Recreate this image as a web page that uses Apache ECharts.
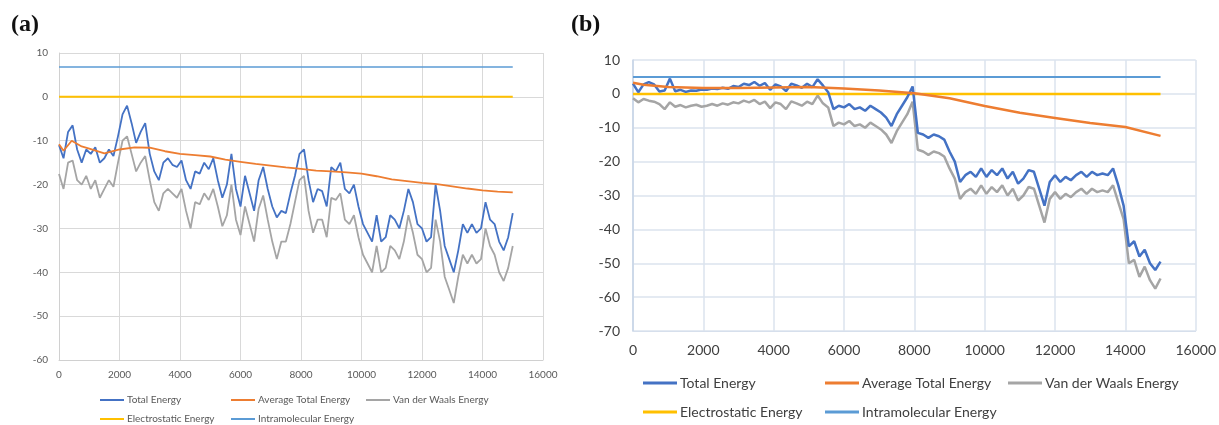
<!DOCTYPE html>
<html>
<head>
<meta charset="utf-8">
<script src="https://cdn.jsdelivr.net/npm/echarts@6/dist/echarts.min.js"></script>
<style>
  html, body { margin: 0; padding: 0; background: #fff; }
  #chart { width: 1219px; height: 425px; }
</style>
</head>
<body>
<div id="chart"></div>
<script>
// sampling step of the read-off energy traces (MC steps)
const stepA = 150
const stepB = 150

// panel (a)
const totalA = [
  -11, -14, -8, -6.5, -12, -15, -12, -13, -11.5, -15, -14, -12, -13.5, -9, -4, -2, -6, -10.5, -8, -6,
  -13, -17, -19, -15, -14, -15.5, -16, -14.5, -19, -21, -17, -17.5, -15, -16.5, -14, -19, -23, -20, -13, -21,
  -25, -18, -22, -26, -19, -16, -21, -25, -27.5, -26, -26.5, -22, -18, -13, -12, -19, -24, -21, -21.5, -25,
  -16, -17, -15, -21, -22, -20, -25, -29, -31, -33, -27, -33, -32, -27, -28, -30, -26, -21, -24, -29,
  -30, -33, -32, -20, -26, -34, -37, -40, -35, -29, -31, -29, -31, -30, -24, -28, -29, -33, -35, -32, -26.5
]
const vdwA = [
  -17.6, -21, -15, -14.5, -19, -20, -18, -21, -19, -23, -21, -19, -20.5, -15, -10, -9, -13, -17, -15, -13.5,
  -19, -24, -26, -22, -21, -22, -23, -21, -26, -30, -24, -24.5, -22, -23.5, -21, -25, -29.5, -27, -20, -28,
  -31.5, -25, -29, -33, -25.5, -22.5, -28, -33, -37, -33, -33, -29, -24, -19, -18, -26, -31, -28, -28, -32,
  -23, -23.5, -22, -28, -29, -27, -32, -36, -38, -40, -34, -40, -39, -34, -35, -37, -33, -27, -31, -36,
  -37, -40, -39, -28, -33, -41, -44, -47, -41, -36, -38, -36, -38, -37, -30, -34, -36, -40, -42, -39, -34
]
const avgAX = [0, 150, 420, 750, 1000, 1500, 2000, 2500, 3000, 3500, 4000, 4500, 5000, 5500, 6000, 6500,
  7000, 7500, 8000, 8500, 9000, 9500, 10000, 10500, 11000, 11500, 12000, 12500, 13000, 13500, 14000, 14500, 15000]
const avgA = [-10.8, -12.3, -10, -11.3, -11.8, -12.9, -12.0, -11.5, -11.6, -12.4, -13.0, -13.3, -13.6, -14.3, -14.8, -15.3,
  -15.7, -16.1, -16.4, -16.8, -17.0, -17.2, -17.5, -18.1, -18.8, -19.2, -19.6, -19.9, -20.4, -20.9, -21.3, -21.6, -21.8]
const elecA = [0, 0]
const intraA = [6.8, 6.8]

// panel (b)
const totalB = [
  3, 0.5, 2.8, 3.5, 2.8, 0.7, 1, 4.5, 0.8, 1.2, 0.6, 1, 0.9, 1.3, 1.2, 1.6, 1.4, 1.8, 1.5, 2.3,
  2, 3, 2.6, 3.5, 2.4, 3.2, 1.2, 2.8, 2.2, 0.8, 3, 2.5, 1.8, 3, 2, 4.3, 2.5, 0.5, -4.5, -3.5,
  -4, -3, -4.5, -4, -5, -3.5, -4.5, -5.5, -7, -9.5, -6, -3.5, -1, 2.2, -11.5, -12, -13, -12, -12.5, -13.5,
  -17, -20, -26, -24, -23, -24.5, -22, -24.5, -22.5, -24, -22, -25, -23, -26.5, -25, -22.5, -23, -28, -33, -26,
  -24, -26, -24.5, -25.5, -24, -23, -24.5, -23, -24, -23.5, -24, -22, -27, -33, -45, -43.5, -48, -46, -50, -52, -49.5
]
const vdwB = [
  -1.3, -2.5, -1.5, -2, -2.3, -3, -4.5, -2.5, -3.8, -3.3, -4, -3.5, -3.2, -3.8, -3.5, -3, -3.5, -2.8, -3.2, -2.5,
  -2.8, -2, -2.5, -1.8, -3, -2.3, -4.2, -2.5, -3, -4.5, -2.2, -2.8, -3.5, -2.3, -3, -0.5, -2.8, -4, -9.5, -8.5,
  -9, -8, -9.5, -9, -10, -8.5, -9.5, -10.5, -12, -14.5, -11, -8.5, -6, -2.3, -16.5, -17, -18, -17, -17.5, -18.5,
  -22, -25, -31, -29, -28, -29.5, -27, -29.5, -27.5, -29, -27, -30, -28, -31.5, -30, -27.5, -28, -33, -38, -31,
  -29, -31, -29.5, -30.5, -29, -28, -29.5, -28, -29, -28.5, -29, -27, -32, -37, -50, -49, -54, -51, -55, -57.5, -54.5
]
const avgBX = [0, 300, 1000, 2000, 3000, 4000, 5000, 6000, 7000, 8000, 9000, 10000, 11000, 12000, 13000, 14000, 15000]
const avgB = [3.3, 2.7, 2.0, 1.7, 1.7, 1.9, 2.0, 1.6, 1.0, 0.2, -1.3, -3.6, -5.6, -7.1, -8.6, -9.8, -12.4]
const elecB = [0, 0]
const intraB = [5, 5]

const flatX = [0, 15000]

const names = ['Total Energy', 'Average Total Energy', 'Van der Waals Energy', 'Electrostatic Energy', 'Intramolecular Energy']
const colors = ['#4472C4', '#ED7D31', '#A5A5A5', '#FFC000', '#5B9BD5']

const stepped = (vals, step) => vals.map((v, i) => [i * step, v])
const paired = (xs, vals) => xs.map((x, i) => [x, vals[i]])
const plain = (v) => String(v)

const chart = echarts.init(document.getElementById('chart'))

function line(name, data, idx, width) {
  return {
    name: name,
    type: 'line',
    data: data,
    xAxisIndex: idx,
    yAxisIndex: idx,
    showSymbol: false,
    symbol: 'none',
    animation: false,
    silent: true,
    lineStyle: { color: colors[names.indexOf(name)], width: width },
    itemStyle: { color: colors[names.indexOf(name)] }
  }
}

// one legend per entry so every item sits where it does in the figure
function legendItem(name, left, top, opts) {
  return {
    data: [name],
    left: left,
    top: top,
    icon: 'rect',
    itemWidth: opts.w,
    itemHeight: opts.h,
    itemGap: 0,
    padding: 0,
    selectedMode: false,
    textStyle: { fontFamily: 'Lato', fontSize: opts.fs, color: opts.color, padding: [0, 0, 0, -2] }
  }
}

const legA = { w: 24, h: 2, fs: 10, color: '#595959' }
const legB = { w: 34, h: 3, fs: 14, color: '#404040' }

const option = {
  backgroundColor: '#fff',
  animation: false,
  title: [
    { text: '(a)', left: 6, top: 8, textStyle: { fontFamily: 'Liberation Serif', fontWeight: 'bold', fontSize: 24, color: '#111' } },
    { text: '(b)', left: 566, top: 8, textStyle: { fontFamily: 'Liberation Serif', fontWeight: 'bold', fontSize: 24, color: '#111' } }
  ],
  grid: [
    { left: 59, top: 53, width: 484, height: 307 },
    { left: 633, top: 60, width: 565, height: 271 }
  ],
  xAxis: [
    {
      type: 'value', gridIndex: 0, min: 0, max: 16000, interval: 2000,
      axisLine: { show: true, onZero: false, lineStyle: { color: '#d0d0d0', width: 1 } },
      axisTick: { show: false },
      axisLabel: { fontFamily: 'Lato', fontSize: 10, color: '#595959', margin: 10, formatter: plain },
      splitLine: { show: true, lineStyle: { color: '#d9d9d9', width: 1 } }
    },
    {
      type: 'value', gridIndex: 1, min: 0, max: 16000, interval: 2000,
      axisLine: { show: true, onZero: false, lineStyle: { color: '#d6dfec', width: 1 } },
      axisTick: { show: false },
      axisLabel: { fontFamily: 'Lato', fontSize: 14, color: '#404040', margin: 12, formatter: plain },
      splitLine: { show: true, lineStyle: { color: '#dbe3ee', width: 1.5 } }
    }
  ],
  yAxis: [
    {
      type: 'value', gridIndex: 0, min: -60, max: 10, interval: 10,
      axisLine: { show: true, onZero: false, lineStyle: { color: '#d0d0d0', width: 1 } },
      axisTick: { show: false },
      axisLabel: { fontFamily: 'Lato', fontSize: 10, color: '#595959', margin: 11 },
      splitLine: { show: true, lineStyle: { color: '#d9d9d9', width: 1 } }
    },
    {
      type: 'value', gridIndex: 1, min: -70, max: 10, interval: 10,
      axisLine: { show: true, onZero: false, lineStyle: { color: '#c6d3e6', width: 1.5 } },
      axisTick: { show: false },
      axisLabel: { fontFamily: 'Lato', fontSize: 14, color: '#404040', margin: 13 },
      splitLine: { show: true, lineStyle: { color: '#dbe3ee', width: 1.5 } }
    }
  ],
  legend: [
    legendItem(names[0], 100, 395, legA),
    legendItem(names[1], 231, 395, legA),
    legendItem(names[2], 366, 395, legA),
    legendItem(names[3], 100, 414, legA),
    legendItem(names[4], 231, 414, legA),
    legendItem(names[0], 643, 376, legB),
    legendItem(names[1], 825, 376, legB),
    legendItem(names[2], 1008, 376, legB),
    legendItem(names[3], 643, 405, legB),
    legendItem(names[4], 825, 405, legB)
  ],
  series: [
    line(names[4], paired(flatX, intraA), 0, 1.5),
    line(names[3], paired(flatX, elecA), 0, 2),
    line(names[2], stepped(vdwA, stepA), 0, 1.8),
    line(names[0], stepped(totalA, stepA), 0, 1.8),
    line(names[1], paired(avgAX, avgA), 0, 1.8),
    line(names[4], paired(flatX, intraB), 1, 2),
    line(names[3], paired(flatX, elecB), 1, 2.5),
    line(names[2], stepped(vdwB, stepB), 1, 2.5),
    line(names[0], stepped(totalB, stepB), 1, 2.5),
    line(names[1], paired(avgBX, avgB), 1, 2.5)
  ]
}

chart.setOption(option)
</script>
</body>
</html>
